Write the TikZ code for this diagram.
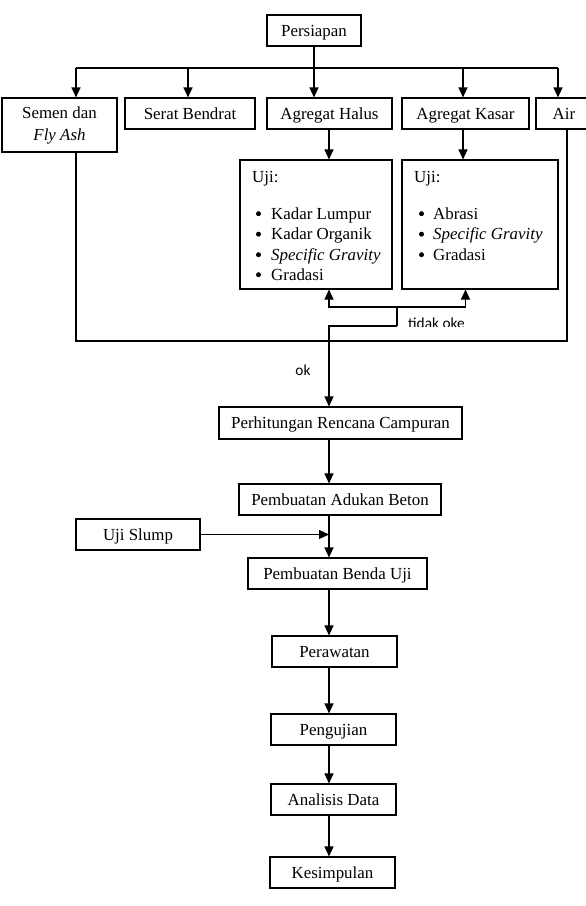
\documentclass[tikz,border=0pt]{standalone}
\usepackage{fontspec}
\setmainfont{Liberation Serif}
\newfontfamily\calib{Carlito}
\usetikzlibrary{arrows.meta}
\tikzset{
  boxbase/.style={draw, line width=1.1pt, rectangle, inner sep=0pt,
    font=\fontsize{16.9}{22}\selectfont, align=center},
  box/.style={boxbase, text height=11.5pt, text depth=0pt},
  ln/.style={line width=1.1pt},
  arr/.style={line width=1.1pt, -{Triangle[length=10pt,width=9pt]}},
  txt/.style={inner sep=0pt, anchor=base west, font=\fontsize{16.9}{20}\selectfont},
  lbl/.style={inner sep=0pt, font=\calib\fontsize{15.3}{18}\selectfont}
}
\begin{document}
\begin{tikzpicture}[x=1pt,y=-1pt]
\useasboundingbox (0,0) rectangle (586,906);
\clip (0,0) rectangle (586,906);

% top row
\node[box, minimum width=94, minimum height=31] (pers) at (314,30.5) {Persiapan};
\node[boxbase, minimum width=115, minimum height=54] (semen) at (59.5,125) {Semen dan\\\textit{Fly Ash}};
\node[box, minimum width=130, minimum height=31] (serat) at (190,113.5) {Serat Bendrat};
\node[box, minimum width=125, minimum height=31] (halus) at (329.5,113.5) {Agregat Halus};
\node[box, minimum width=127, minimum height=31] (kasar) at (465.5,113.5) {Agregat Kasar};
\node[box, minimum width=56, minimum height=31] (air) at (564,113.5) {Air};

% test boxes
\node[boxbase, minimum width=152, minimum height=129] (ujiH) at (316,224.5) {};
\node[boxbase, minimum width=156, minimum height=129] (ujiK) at (480,224.5) {};
\node[txt] (uh0) at (252,182) {Uji:};
\node[txt] (uh1) at (271,219) {Kadar Lumpur};
\node[txt] (uh2) at (271,239.5) {Kadar Organik};
\node[txt] (uh3) at (271,260) {\textit{Specific Gravity}};
\node[txt] (uh4) at (271,280) {Gradasi};
\node[txt] (uk0) at (414,182) {Uji:};
\node[txt] (uk1) at (433,219) {Abrasi};
\node[txt] (uk2) at (433,239.5) {\textit{Specific Gravity}};
\node[txt] (uk3) at (433,260) {Gradasi};
% bullets
\foreach \x/\y in {258.5/219, 258.5/239.5, 258.5/260, 258.5/280,
                   421.5/219, 421.5/239.5, 421.5/260}
  \fill (\x,\y-5.3) circle (2.5);

% lower chain
\node[box, minimum width=243, minimum height=32] (perh) at (340.5,423) {Perhitungan Rencana Campuran};
\node[box, minimum width=202, minimum height=31] (aduk) at (340,499.5) {Pembuatan Adukan Beton};
\node[box, minimum width=124, minimum height=31] (slump) at (138,534.5) {Uji Slump};
\node[box, minimum width=179, minimum height=31] (benda) at (337.5,573.5) {Pembuatan Benda Uji};
\node[box, minimum width=125, minimum height=31] (rawat) at (334.5,651.5) {Perawatan};
\node[box, minimum width=125, minimum height=31] (uji) at (333.5,729.5) {Pengujian};
\node[box, minimum width=125, minimum height=31] (anal) at (333.5,799.5) {Analisis Data};
\node[box, minimum width=125, minimum height=31] (kesim) at (332.5,872.5) {Kesimpulan};

% helper coordinates
\coordinate (busL) at (76,68);
\coordinate (busR) at (558,68);
\coordinate (bS) at (188,68);
\coordinate (bK) at (463,68);
\coordinate (xK) at (463,0);
\coordinate (xA) at (567,0);
\coordinate (loopY) at (0,341);
\coordinate (fb) at (397,326);
\coordinate (fbT) at (397,307);
\coordinate (xU1) at (329,0);
\coordinate (xU2) at (465.5,0);
\coordinate (spine) at (329,0);

% top distribution
\draw[ln] (busL) -- (busR);
\draw[arr] (pers.south) -- (halus.north -| pers.south);
\draw[arr] (busL) -- (semen.north -| busL);
\draw[arr] (bS) -- (serat.north -| bS);
\draw[arr] (bK) -- (kasar.north -| bK);
\draw[arr] (busR) -- (air.north -| busR);

% to test boxes
\draw[arr] (halus.south -| spine) -- (ujiH.north -| spine);
\draw[arr] (kasar.south -| xK) -- (ujiK.north -| xK);

% outer loop
\draw[ln] (semen.south -| busL) -- (busL |- loopY) -- (xA |- loopY) -- (air.south -| xA);

% feedback
\draw[ln] (fb) -- (fbT);
\draw[arr] (fbT) -| (ujiH.south -| xU1);
\draw[arr] (fbT) -| (ujiK.south -| xU2);
\begin{scope}
\clip (400,300) rectangle (480,326.6);
\node[lbl, anchor=base west] (tidak) at (408,328.2) {tidak oke};
\end{scope}
\draw[arr] (fb) -| (perh.north -| spine);
\node[lbl, anchor=base] (ok) at (303,375) {ok};

% chain
\draw[arr] (perh.south -| spine) -- (aduk.north -| spine);
\draw[arr] (aduk.south -| spine) -- (benda.north -| spine);
\draw[arr] (slump.east) -- (slump.east -| spine);
\draw[arr] (benda.south -| spine) -- (rawat.north -| spine);
\draw[arr] (rawat.south -| spine) -- (uji.north -| spine);
\draw[arr] (uji.south -| spine) -- (anal.north -| spine);
\draw[arr] (anal.south -| spine) -- (kesim.north -| spine);
\end{tikzpicture}
\end{document}
